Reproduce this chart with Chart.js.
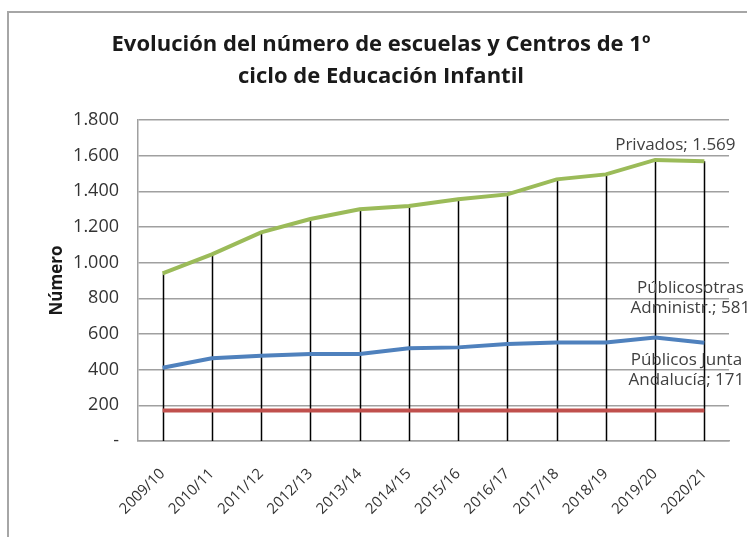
<!DOCTYPE html>
<html>
<head>
<meta charset="utf-8">
<script src="https://cdn.jsdelivr.net/npm/chart.js@4.4.1/dist/chart.umd.min.js"></script>
<style>
  html, body { margin: 0; padding: 0; background: #fff; overflow: hidden; width: 747px; height: 537px; }
  #frame { position: absolute; left: 7px; top: 11px; width: 744px; height: 540px; border: 2px solid #a6a6a6; background: #fff; }
  #c { display: block; }
</style>
</head>
<body>
<div id="frame"><canvas id="c" width="744" height="530"></canvas></div>
<script>
// ---- data ----
const categories = ['2009/10','2010/11','2011/12','2012/13','2013/14','2014/15','2015/16','2016/17','2017/18','2018/19','2019/20','2020/21'];
const privados = [940, 1047, 1170, 1245, 1300, 1318, 1355, 1383, 1467, 1495, 1576, 1569];
const publicosOtras = [411, 464, 478, 488, 488, 520, 525, 544, 553, 553, 581, 551];
const publicosJunta = [171, 171, 171, 171, 171, 171, 171, 171, 171, 171, 171, 171];
const yTickLabels = ['-', '200', '400', '600', '800', '1.000', '1.200', '1.400', '1.600', '1.800'];
const seriesNames = ['Privados', 'Públicos otras Administr.', 'Públicos Junta Andalucía'];
const endLabels = [['Privados; 1.569'], ['Públicosotras', 'Administr.; 581'], ['Públicos Junta', 'Andalucía; 171']];
const titleLines = ['Evolución del número de escuelas y Centros de 1º', 'ciclo de Educación Infantil'];
const yAxisTitle = 'Número';

const FONT = '"Open Sans", "Liberation Sans", sans-serif';

// drop lines from the top series down to the axis
const dropLines = {
  id: 'dropLines',
  beforeDatasetsDraw(chart) {
    const meta = chart.getDatasetMeta(0);
    const ctx = chart.ctx;
    const bottom = chart.chartArea.bottom;
    ctx.save();
    ctx.strokeStyle = '#000';
    ctx.lineWidth = 1.5;
    meta.data.forEach(pt => {
      ctx.beginPath();
      ctx.moveTo(Math.round(pt.x) + 0.5, pt.y);
      ctx.lineTo(Math.round(pt.x) + 0.5, bottom);
      ctx.stroke();
    });
    ctx.restore();
  }
};

// end-of-series labels
const labelOffsets = [
  { dx: -29, dy: [-16] },
  { dx: -14, dy: [-55, -35] },
  { dx: -18, dy: [-50, -30] }
];
const endLabelPlugin = {
  id: 'endLabels',
  afterDatasetsDraw(chart) {
    const ctx = chart.ctx;
    ctx.save();
    ctx.font = '17px ' + FONT;
    ctx.fillStyle = '#404040';
    ctx.textAlign = 'center';
    ctx.textBaseline = 'middle';
    endLabels.forEach((lines, i) => {
      const meta = chart.getDatasetMeta(i);
      const pt = meta.data[meta.data.length - 1];
      const off = labelOffsets[i];
      lines.forEach((t, j) => ctx.fillText(t, pt.x + off.dx, pt.y + off.dy[j]));
    });
    ctx.restore();
  }
};

new Chart(document.getElementById('c'), {
  type: 'line',
  data: {
    labels: categories,
    datasets: [
      { label: seriesNames[0], data: privados, borderColor: '#9BBB59', backgroundColor: '#9BBB59', borderWidth: 4, pointRadius: 0, tension: 0 },
      { label: seriesNames[1], data: publicosOtras, borderColor: '#4F81BD', backgroundColor: '#4F81BD', borderWidth: 4, pointRadius: 0, tension: 0 },
      { label: seriesNames[2], data: publicosJunta, borderColor: '#C0504D', backgroundColor: '#C0504D', borderWidth: 4, pointRadius: 0, tension: 0 }
    ]
  },
  options: {
    responsive: false,
    animation: false,
    devicePixelRatio: 1,
    layout: { padding: { left: 24, right: 24, top: 0, bottom: 0 } },
    plugins: {
      legend: { display: false },
      tooltip: { enabled: false },
      title: {
        display: true,
        text: titleLines,
        color: '#1a1a1a',
        font: { family: FONT, size: 22, weight: 'bold', lineHeight: 32 / 22 },
        padding: { top: 16, bottom: 27 }
      }
    },
    scales: {
      x: {
        offset: true,
        grid: { display: false, drawTicks: false },
        border: { display: true, color: '#a0a0a0', width: 1.5 },
        ticks: {
          autoSkip: false, maxRotation: 45, minRotation: 45,
          padding: 24,
          color: '#333',
          font: { family: FONT, size: 15 }
        },
        afterFit(scale) { scale.height = 102; }
      },
      y: {
        min: 0, max: 1800,
        grid: { color: '#a0a0a0', lineWidth: 1.5, drawTicks: false },
        border: { display: true, color: '#a0a0a0', width: 1.5 },
        ticks: {
          stepSize: 200,
          padding: 19,
          color: '#333',
          font: { family: FONT, size: 18 },
          callback: (v, i) => yTickLabels[i]
        },
        title: {
          display: true,
          text: yAxisTitle,
          color: '#1a1a1a',
          font: { family: FONT, size: 17, weight: 'bold', lineHeight: 1.2 },
          padding: { top: 14, bottom: 0 }
        },
        afterFit(scale) { scale.width = 105; }
      }
    }
  },
  plugins: [dropLines, endLabelPlugin]
});
</script>
</body>
</html>
